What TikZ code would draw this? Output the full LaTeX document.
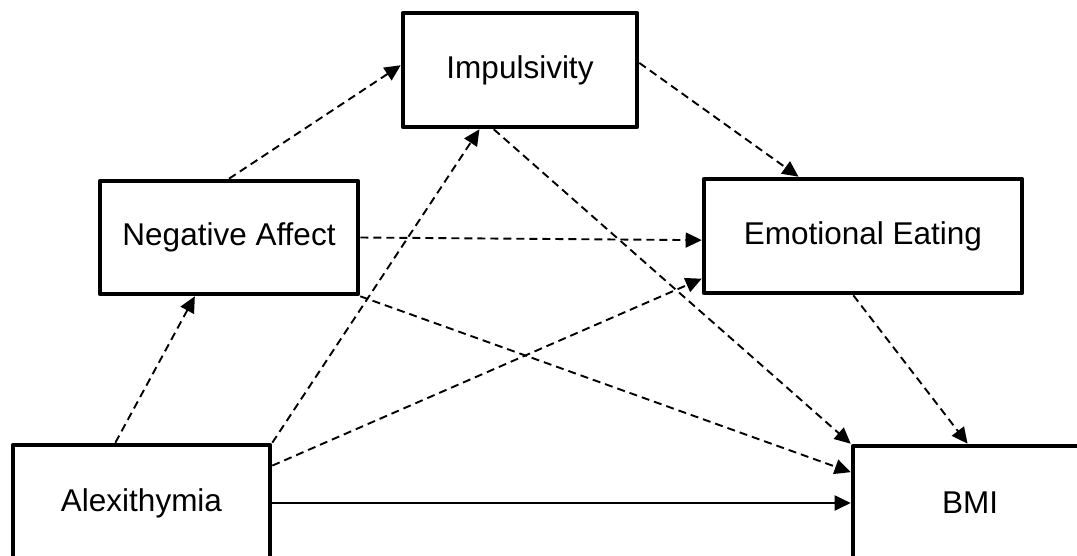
\documentclass[tikz,border=0pt]{standalone}
\usepackage{fontspec}
\setmainfont{Liberation Sans}
\usetikzlibrary{calc,arrows.meta}
\begin{document}
\begin{tikzpicture}[x=1pt,y=-1pt,
  box/.style={draw,line width=4.6pt,line join=round,fill=white,inner sep=0pt,
    font=\fontsize{31.5}{37}\selectfont},
  dlink/.style={draw,line width=1.9pt,dash pattern=on 8pt off 5pt,
    -{Triangle[length=16pt,width=15pt]}},
  slink/.style={draw,line width=1.9pt,-{Triangle[length=16pt,width=15pt]}}]
\useasboundingbox (0,0) rectangle (1077,555);
\clip (0,0) rectangle (1077,555);

% variables
\node[box,minimum width=234pt,minimum height=114pt] (imp)  at (520,70)    {Impulsivity};
\node[box,minimum width=258pt,minimum height=113pt] (na)   at (229,237.5) {Negative Affect};
\node[box,minimum width=318pt,minimum height=114pt] (ee)   at (863,236)   {Emotional Eating};
\node[box,minimum width=257pt,minimum height=116pt] (alex) at (141.5,503) {Alexithymia};
\node[box,minimum width=234pt,minimum height=114pt] (bmi)  at (970,503)   {BMI};

% paths
\draw[dlink] ($(alex.north west)!0.40!(alex.north east)$) -- ($(na.south west)!0.37!(na.south east)$);
\draw[dlink] (na.north) -- ($(imp.north west)!0.46!(imp.south west)$);
\draw[dlink] (alex.north east) -- ($(imp.south west)!0.33!(imp.south east)$);
\draw[dlink] ($(imp.north east)!0.44!(imp.south east)$) -- ($(ee.north west)!0.30!(ee.north east)$);
\draw[dlink] ($(imp.south west)!0.39!(imp.south east)$) -- (bmi.north west);
\draw[dlink] (na.east) -- ($(ee.north west)!0.535!(ee.south west)$);
\draw[dlink] (na.south east) -- ($(bmi.north west)!0.24!(bmi.south west)$);
\draw[dlink] ($(alex.north east)!0.19!(alex.south east)$) -- ($(ee.north west)!0.86!(ee.south west)$);
\draw[dlink] ($(ee.south west)!0.47!(ee.south east)$) -- ($(bmi.north west)!0.49!(bmi.north east)$);
\draw[slink] (alex.east) -- (bmi.west);
\end{tikzpicture}
\end{document}
